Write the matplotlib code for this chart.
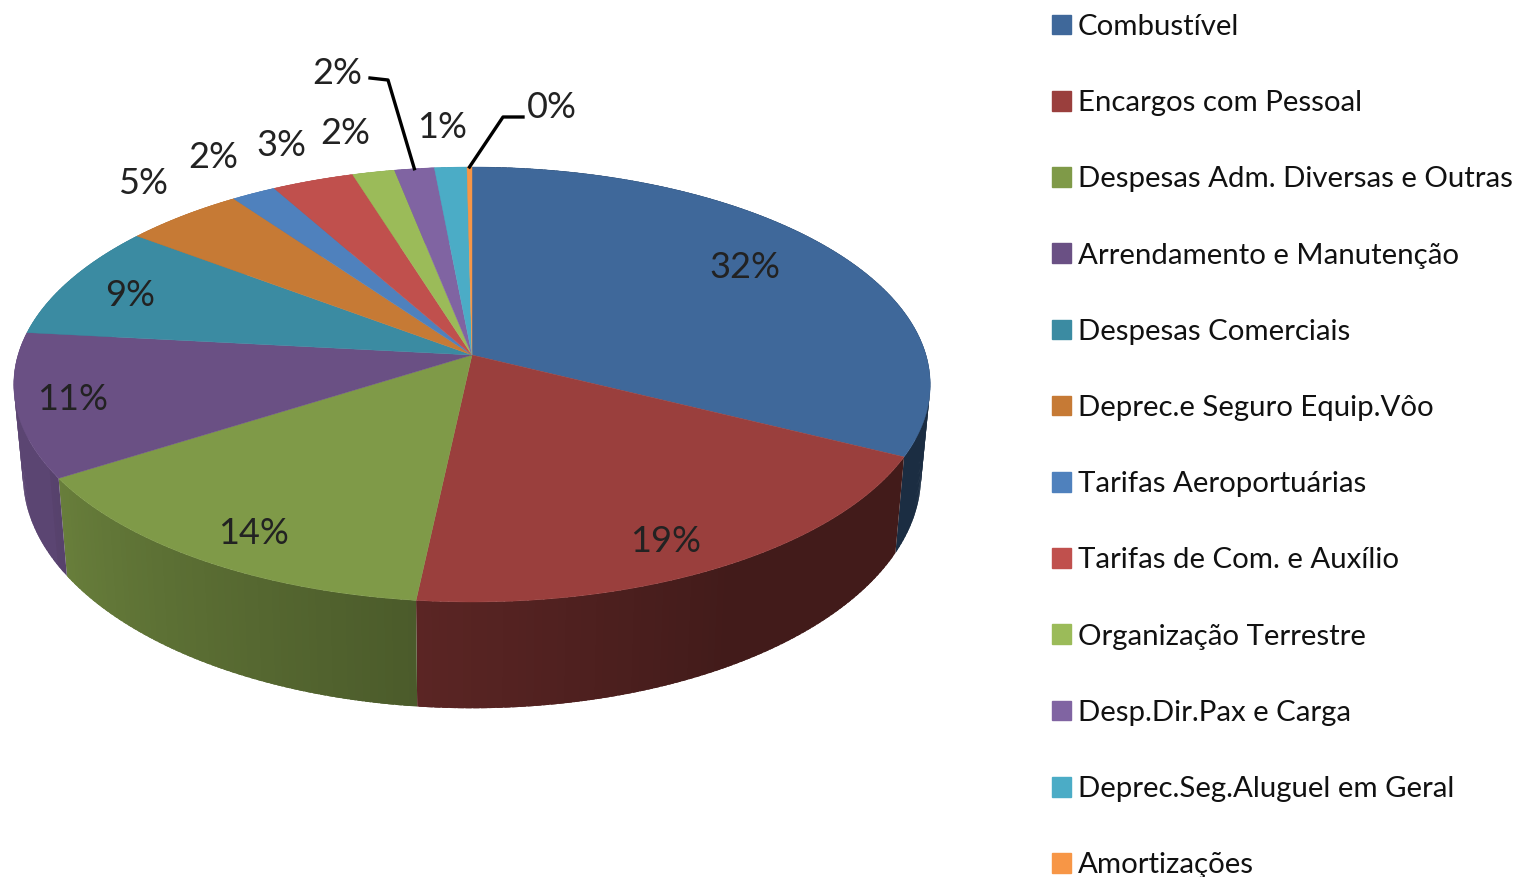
#!/usr/bin/env python
"""3D-look pie of airline costs with a right hand legend."""
import matplotlib; matplotlib.use("Agg")
import matplotlib.pyplot as plt
import matplotlib.patches as mpatches
import numpy as np

plt.rcParams["font.family"] = ["Lato", "DejaVu Sans"]

CATS = ["Combustível", "Encargos com Pessoal", "Despesas Adm. Diversas e Outras",
        "Arrendamento e Manutenção", "Despesas Comerciais", "Deprec.e Seguro Equip.Vôo",
        "Tarifas Aeroportuárias", "Tarifas de Com. e Auxílio", "Organização Terrestre",
        "Desp.Dir.Pax e Carga", "Deprec.Seg.Aluguel em Geral", "Amortizações"]
VALUES = [32.4, 19.3, 14.3, 10.7, 8.6, 4.8, 1.8, 3.3, 1.7, 1.6, 1.3, 0.2]
COLORS = ["#3F689A", "#9A3F3D", "#7F9A48", "#6A5084", "#3B8BA2", "#C67A35",
          "#4F81BD", "#C0504D", "#9BBB59", "#8064A2", "#4BACC6", "#F79646"]
# where each percent label sits, in pixels
LABEL_POS = [(745, 267), (666, 542), (253, 533), (73, 399), (130, 296), (143, 183),
             (213, 157), (281, 146), (345, 133), (337, 73), (442, 127), (552, 108)]

CX, CY = 472, 355
A, B, P = 454, 213.5, 0.1356
SX, SY, DY = 0.98, 1.07, 89


def rim(theta, lower=False):
    # circle seen in perspective, theta clockwise from the top
    u, v = np.sin(theta), np.cos(theta)
    w = 1 + P * v
    if lower:
        return CX + SX * A * u / w, CY + DY - SY * B * v / w
    return CX + A * u / w, CY - B * v / w


fig, ax = plt.subplots(figsize=(15.2, 8.77), dpi=100)
ax.set_position([0, 0, 1, 1])
ax.set_xlim(0, 1520); ax.set_ylim(877, 0); ax.axis("off")

edges = np.radians(np.cumsum([0] + VALUES) / sum(VALUES) * 360)

# side wall first, in strips so it can get darker towards the front right
for i, col in enumerate(COLORS):
    steps = max(2, int((edges[i + 1] - edges[i]) / 0.015))
    ts = np.linspace(edges[i], edges[i + 1], steps + 1)
    base = np.array(matplotlib.colors.to_rgb(col))
    for t0, t1 in zip(ts[:-1], ts[1:]):
        deg = np.degrees((t0 + t1) / 2)
        # dark up to the front, then lighter going round to the left
        shade = 0.43 + 0.40 * np.clip((deg - 150) / 90, 0, 1)
        if deg > 240:
            shade = 0.86
        # strips overlap the next one a little so no seams show
        t2 = min(t1 + 0.012, edges[i + 1])
        x0, y0 = rim(t0); x1, y1 = rim(t2)
        x2, y2 = rim(t2, True); x3, y3 = rim(t0, True)
        ax.add_patch(mpatches.Polygon([(x0, y0), (x1, y1), (x2, y2), (x3, y3)],
                                      closed=True, fc=base * shade, ec="none"))

# top face
for i, col in enumerate(COLORS):
    ts = np.linspace(edges[i], edges[i + 1], 200)
    xs, ys = rim(ts)
    ax.add_patch(mpatches.Polygon(np.column_stack([np.r_[CX, xs], np.r_[CY, ys]]),
                                  closed=True, fc=col, ec=col, lw=0.3))

for v, (x, y) in zip(VALUES, LABEL_POS):
    ax.text(x, y, f"{round(v)}%", ha="center", va="center", fontsize=26, color="#222222")

# leader lines for the two small slices
mid = (edges[9] + edges[10]) / 2
ax.plot([370, 388, rim(mid)[0]], [78, 80, rim(mid)[1]], color="black", lw=2.4)
mid = (edges[11] + edges[12]) / 2
ax.plot([523, 503, rim(mid)[0]], [117, 117, rim(mid)[1]], color="black", lw=2.4)

handles = [mpatches.Patch(color=c, label=l) for c, l in zip(COLORS, CATS)]
ax.legend(handles=handles, loc="upper left", bbox_to_anchor=(1052 / 1520, 1 - 14 / 877),
          frameon=False, fontsize=21.2, handlelength=0.65, handleheight=0.65,
          handletextpad=0.22, labelspacing=1.705, borderpad=0, borderaxespad=0,
          labelcolor="#111111")

fig.savefig("out.png", dpi=100)
